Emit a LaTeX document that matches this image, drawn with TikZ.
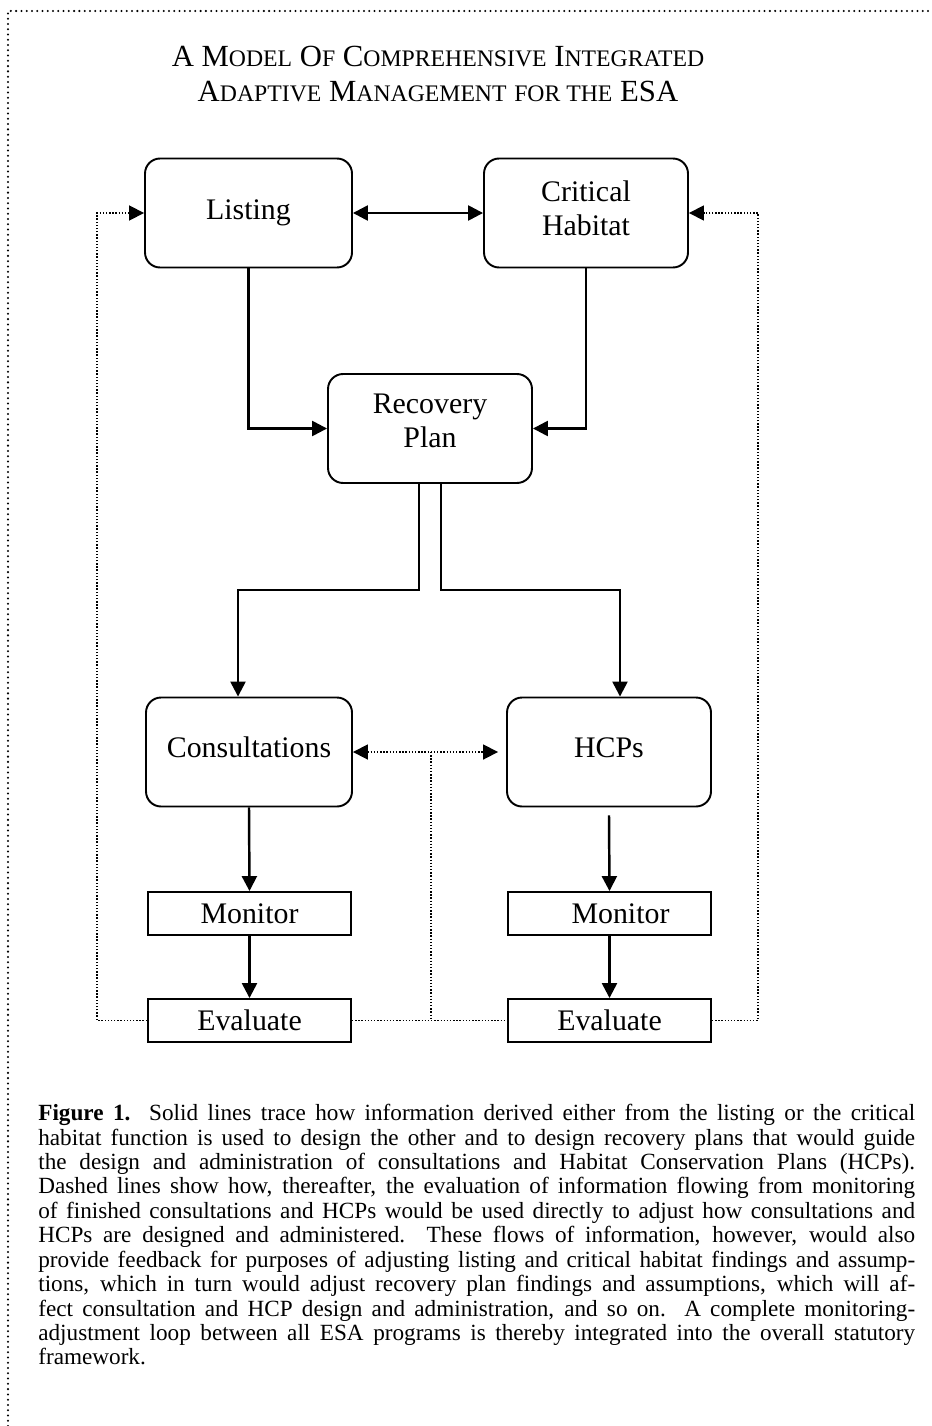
\documentclass[tikz,border=0pt]{standalone}
\usepackage{fontspec}
\setmainfont{Liberation Serif}
\usetikzlibrary{arrows.meta}
\newcommand{\sct}[2]{#1{\fontsize{13.5pt}{19.4pt}\selectfont #2}}

\begin{document}
\begin{tikzpicture}[x=0.02cm,y=-0.02cm,
  box/.style={draw,line width=1.1pt,rounded corners=0.3cm,minimum width=4.08cm,minimum height=2.18cm,align=center,inner sep=0pt,font=\fontsize{17pt}{19.4pt}\selectfont},
  sbox/.style={draw,line width=1.1pt,minimum width=4.06cm,minimum height=0.86cm,inner sep=0pt,font=\fontsize{17pt}{19.4pt}\selectfont},
  tip/.style={-{Triangle[length=0.3cm,width=0.3cm]}},
  both/.style={{Triangle[length=0.3cm,width=0.3cm]}-{Triangle[length=0.3cm,width=0.3cm]}},
  flow/.style={line width=1.4pt,tip},
  fb/.style={line width=1pt,dash pattern=on 0.8pt off 1pt},
  border/.style={line width=1.3pt,line cap=round,dash pattern=on 0pt off 3pt}]
\useasboundingbox (0,0) rectangle (932,1426);
\draw[border] (8,1426) -- (8,11) -- (932,11);
% title
\node[align=center,font=\fontsize{17.5pt}{19.4pt}\selectfont] (title) at (438,74)
  {A \sct{M}{ODEL} \sct{O}{F} \sct{C}{OMPREHENSIVE} \sct{I}{NTEGRATED}\\
   \sct{A}{DAPTIVE} \sct{M}{ANAGEMENT} \sct{}{FOR THE} ESA};
% boxes
\node[box,minimum width=4.14cm] (lst) at (248.5,213) {Listing};
\node[box,text depth=0.2cm] (crit) at (586,213) {Critical\\Habitat};
\node[box,text depth=0.32cm] (rec) at (430,428.5) {Recovery\\Plan};
\node[box,minimum width=4.12cm,text depth=0.2cm] (cons) at (249,752) {Consultations};
\node[box,text depth=0.17cm] (hcp) at (609,752) {HCPs};
\node[sbox] (monL) at (249.5,913.5) {Monitor};
\node[sbox] (evalL) at (249.5,1020.5) {Evaluate};
\node[sbox] (monR) at (609.5,913.5) {\hspace*{0.44cm}Monitor};
\node[sbox] (evalR) at (609.5,1020.5) {Evaluate};
\coordinate (splitL) at (419,590);
\coordinate (splitR) at (441,590);
\coordinate (jn) at (431,752);
\coordinate (loopL) at (97,213);
\coordinate (loopR) at (758,213);
% solid lines
\draw[flow,both] (lst.east) -- (crit.west);
\draw[flow] (lst.south) |- (rec.west);
\draw[flow] (crit.south) |- (rec.east);
\draw[flow] (rec.south -| splitL) -- (splitL) -| ([xshift=-0.22cm]cons.north);
\draw[flow] (rec.south -| splitR) -- (splitR) -| ([xshift=0.22cm]hcp.north);
\draw[flow] (cons.south) -- (monL.north);
\draw[flow] (monL) -- (evalL);
\draw[flow] ([yshift=-0.16cm]hcp.south) -- (monR.north);
\draw[flow] (monR) -- (evalR);
% dotted feedback
\draw[fb,both] (cons.east) -- ([xshift=-0.16cm]hcp.west);
\draw[fb] (evalL.east) -- (evalR.west);
\draw[fb] (jn) -- (jn |- evalL.east);
\draw[fb,tip] (evalL.west) -| (loopL) -- (lst.west);
\draw[fb,tip] (evalR.east) -| (loopR) -- (crit.east);
% caption
\node[anchor=north west,inner sep=0pt,text width=17.54cm,align=justify,font=\fontsize{13.2pt}{13.9pt}\selectfont] (cap) at (38,1104)
  {\tolerance=10000\hyphenpenalty=10000\parindent=0pt
  \textbf{Figure 1.}\ \ Solid lines trace how information derived either from the listing or the critical\linebreak
  habitat function is used to design the other and to design recovery plans that would guide\linebreak
  the design and administration of consultations and Habitat Conservation Plans (HCPs).\linebreak
  Dashed lines show how, thereafter, the evaluation of information flowing from monitoring\linebreak
  of finished consultations and HCPs would be used directly to adjust how consultations and\linebreak
  HCPs are designed and administered.\ \ These flows of information, however, would also\linebreak
  provide feedback for purposes of adjusting listing and critical habitat findings and assump-\linebreak
  tions, which in turn would adjust recovery plan findings and assumptions, which will af-\linebreak
  fect consultation and HCP design and administration, and so on.\ \ A complete monitoring-\linebreak
  adjustment loop between all ESA programs is thereby integrated into the overall statutory\linebreak
  framework.};
\end{tikzpicture}
\end{document}
